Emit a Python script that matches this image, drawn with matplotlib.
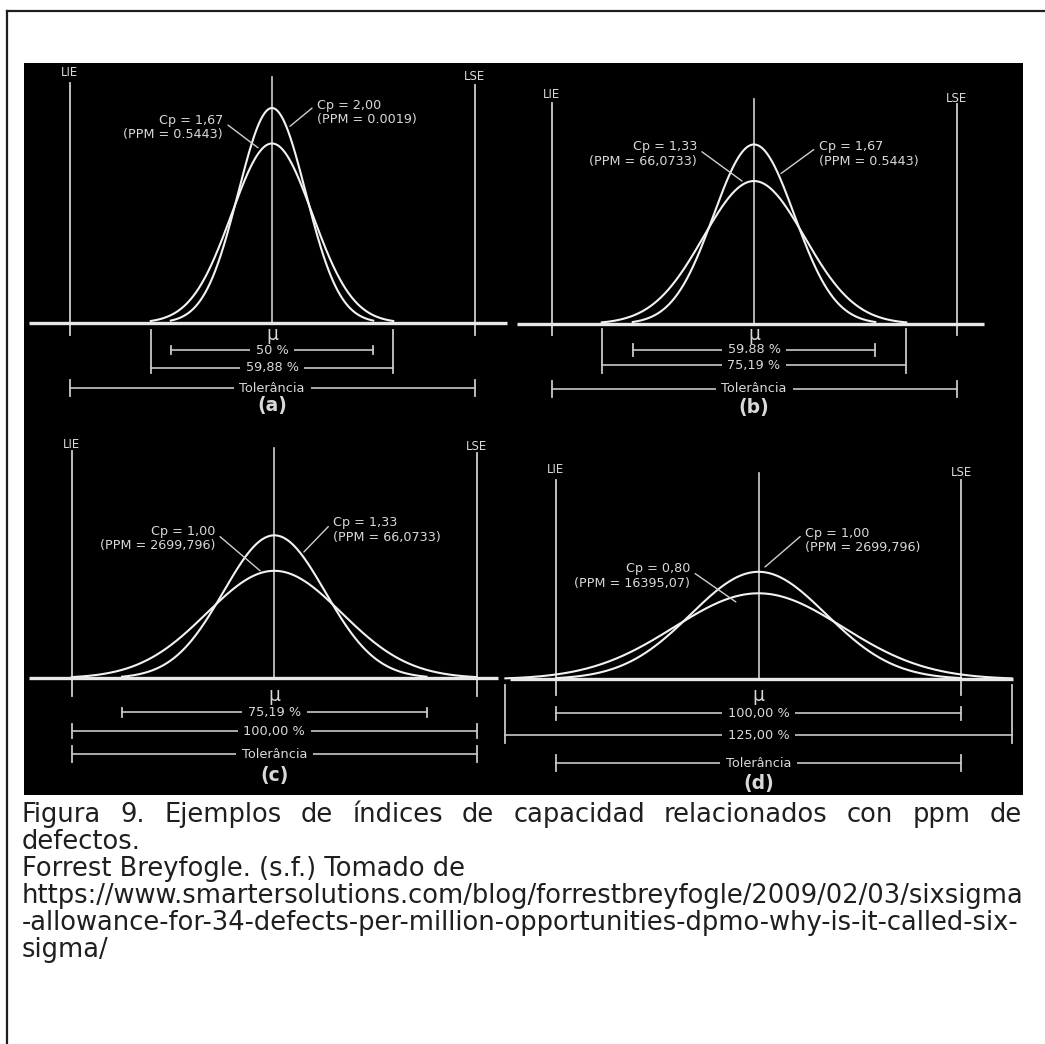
import numpy as np
import matplotlib
matplotlib.use("Agg")
import matplotlib.pyplot as plt
from matplotlib.patches import Rectangle
from matplotlib.lines import Line2D

# ---------------- data ----------------
panel_tags = ["(a)", "(b)", "(c)", "(d)"]
cp_wide = [1.67, 1.33, 1.00, 0.80]          # wider curve, annotated on the left
ppm_wide = ["0.5443", "66,0733", "2699,796", "16395,07"]
cp_narrow = [2.00, 1.67, 1.33, 1.00]        # narrower curve, annotated on the right
ppm_narrow = ["0.0019", "0.5443", "66,0733", "2699,796"]
inner_pct = [50.00, 59.88, 75.19, 100.00]
inner_labels = ["50 %", "59,88 %", "75,19 %", "100,00 %"]
outer_pct = [59.88, 75.19, 100.00, 125.00]
outer_labels = ["59,88 %", "75,19 %", "100,00 %", "125,00 %"]
tolerance_pct = 100.0
spec_labels = ["LIE", "LSE"]
center_label = "\u03bc"
tol_label = "Toler\u00e2ncia"
caption_lines = [
    "Figura 9. Ejemplos de \u00edndices de capacidad relacionados con ppm de",
    "defectos.",
    "Forrest Breyfogle. (s.f.) Tomado de",
    "https://www.smartersolutions.com/blog/forrestbreyfogle/2009/02/03/sixsigma",
    "-allowance-for-34-defects-per-million-opportunities-dpmo-why-is-it-called-six-",
    "sigma/",
]

# ---------------- layout ----------------
W, H, DPI = 1045, 1044, 100
S = 4.05     # px per % of tolerance
K = 107.5    # px per unit of curve height
panels = [
    dict(cx=272.0, by=323.0, box=(24, 63, 512, 425),
         lie_lab=250, lse_lab=246, lie_top=240, lse_top=238, ctr_top=246, vbot=12, mu=11,
         inner=27, inner_tick=4, outer=45, outer_tick=(7, 50), tol=65, tol_tick=8, tag=82,
         base=(-60.0, 58.0),
         lt=(-12.1, 1.82), le=(-3.46, 1.63), rt=(11.1, 1.96), re=(4.44, 1.83)),
    dict(cx=754.0, by=324.0, box=(512, 63, 1023, 425),
         lie_lab=229, lse_lab=226, lie_top=221, lse_top=220, ctr_top=225, vbot=11, mu=10,
         inner=26, inner_tick=6, outer=41, outer_tick=(5, 49), tol=65, tol_tick=8, tag=84,
         base=(-58.4, 56.8),
         lt=(-14.1, 1.58), le=(-2.96, 1.33), rt=(16.0, 1.58), re=(6.67, 1.40)),
    dict(cx=274.3, by=678.3, box=(24, 425, 512, 795),
         lie_lab=234, lse_lab=232, lie_top=227, lse_top=225, ctr_top=230, vbot=18, mu=17,
         inner=34, inner_tick=4.5, outer=53, outer_tick=(46, 60), tol=76, tol_tick=8, tag=97,
         base=(-60.6, 55.2),
         lt=(-14.6, 1.30), le=(-3.5, 1.0), rt=(14.5, 1.38), re=(7.3, 1.175)),
    dict(cx=758.5, by=679.3, box=(512, 425, 1023, 795),
         lie_lab=210, lse_lab=207, lie_top=199, lse_top=199, ctr_top=206, vbot=16, mu=16,
         inner=34, inner_tick=6.5, outer=56, outer_tick=(6, 64), tol=84, tol_tick=8, tag=104,
         base=(-61.4, 62.8),
         lt=(-16.9, 0.96), le=(-5.6, 0.72), rt=(11.5, 1.29), re=(1.6, 1.045)),
]

CURVE = "#f2f2f2"
VLINE = "#cfcfcf"
BASE = "#e8e8e8"
BRK = "#c8c8c8"
TXT = "#d9d9d9"
FONT = "DejaVu Sans"

fig = plt.figure(figsize=(W / DPI, H / DPI), dpi=DPI)
fig.patch.set_facecolor("white")

# outer frame (left and top rules) and black picture area
fig.add_artist(Line2D([7 / W, 7 / W], [0, 1 - 10.7 / H], transform=fig.transFigure,
                      color="#1e1e1e", lw=1.6))
fig.add_artist(Line2D([7 / W, 1], [1 - 10.7 / H, 1 - 10.7 / H], transform=fig.transFigure,
                      color="#1e1e1e", lw=1.6))
fig.add_artist(Rectangle((24 / W, 1 - 795 / H), (1023 - 24) / W, (795 - 63) / H,
                         transform=fig.transFigure, facecolor="black", edgecolor="none",
                         zorder=0))


def fmt_cp(v):
    return "Cp = " + f"{v:.2f}".replace(".", ",")


for i, P in enumerate(panels):
    l, t, r, b = P["box"]
    cx, by = P["cx"], P["by"]
    ax = fig.add_axes([l / W, 1 - b / H, (r - l) / W, (b - t) / H])
    ax.set_facecolor("none")
    ax.set_axis_off()
    ax.set_xlim((l - cx) / S, (r - cx) / S)
    ax.set_ylim((by - b) / K, (by - t) / K)
    py = lambda px: px / K
    half_tol = tolerance_pct / 2

    # spec limit lines and centre line
    ax.plot([-half_tol, -half_tol], [-py(P["vbot"]), py(P["lie_top"])], color=VLINE,
            lw=1.3, clip_on=False)
    ax.plot([half_tol, half_tol], [-py(P["vbot"]), py(P["lse_top"])], color=VLINE,
            lw=1.3, clip_on=False)
    ax.plot([0, 0], [0, py(P["ctr_top"])], color=VLINE, lw=1.2, clip_on=False)
    ax.text(-half_tol, py(P["lie_lab"]), spec_labels[0], color=TXT, fontsize=8.5,
            family=FONT, ha="center", va="center")
    ax.text(half_tol, py(P["lse_lab"]), spec_labels[1], color=TXT, fontsize=8.5,
            family=FONT, ha="center", va="center")

    # normal curves
    for cp in (cp_wide[i], cp_narrow[i]):
        sig = tolerance_pct / (6 * cp)
        xs = np.linspace(-3 * sig, 3 * sig, 500)
        ys = cp * np.exp(-0.5 * (xs / sig) ** 2)
        ax.plot(xs, ys, color=CURVE, lw=1.5, clip_on=False, zorder=3)

    # baseline
    ax.plot(list(P["base"]), [0, 0], color=BASE, lw=2.4, clip_on=False, zorder=4,
            solid_capstyle="butt")

    ax.text(0, -py(P["mu"]), center_label, color=TXT, fontsize=13.5, family=FONT,
            ha="center", va="center", zorder=7)

    def bracket(half, ypx, tick, label):
        y = -py(ypx)
        ax.plot([-half, half], [y, y], color=BRK, lw=1.2, clip_on=False)
        for xe in (-half, half):
            ax.plot([xe, xe], [-py(tick[0]), -py(tick[1])], color=BRK, lw=1.3,
                    clip_on=False)
        ax.text(0, y, label, color=TXT, fontsize=9.3, family=FONT, ha="center",
                va="center", zorder=5,
                bbox=dict(facecolor="black", edgecolor="none", boxstyle="square,pad=0.45"))

    it = P["inner_tick"]
    bracket(inner_pct[i] / 2, P["inner"], (P["inner"] - it, P["inner"] + it),
            inner_labels[i])
    bracket(outer_pct[i] / 2, P["outer"], P["outer_tick"], outer_labels[i])
    tt = P["tol_tick"]
    bracket(half_tol, P["tol"], (P["tol"] - tt, P["tol"] + tt), tol_label)

    ax.text(0, -py(P["tag"]), panel_tags[i], color=TXT, fontsize=13.5, family=FONT,
            fontweight="bold", ha="center", va="center", zorder=7)

    # annotations
    ax.annotate(fmt_cp(cp_wide[i]) + "\n(PPM = " + ppm_wide[i] + ")",
                xy=P["le"], xytext=P["lt"], color=TXT, fontsize=9.2, family=FONT,
                ha="right", va="center", multialignment="right", linespacing=1.15,
                arrowprops=dict(arrowstyle="-", color=VLINE, lw=1.0, shrinkA=2, shrinkB=0,
                                relpos=(1.0, 0.72)))
    ax.annotate(fmt_cp(cp_narrow[i]) + "\n(PPM = " + ppm_narrow[i] + ")",
                xy=P["re"], xytext=P["rt"], color=TXT, fontsize=9.2, family=FONT,
                ha="left", va="center", multialignment="left", linespacing=1.15,
                arrowprops=dict(arrowstyle="-", color=VLINE, lw=1.0, shrinkA=2, shrinkB=0,
                                relpos=(0.0, 0.8)))

# ---------------- caption ----------------
renderer = fig.canvas.get_renderer()
left_px, right_px = 22, 1022
probe = fig.text(0, 0, caption_lines[3], fontsize=10, family=FONT)
w10 = probe.get_window_extent(renderer).width
probe.remove()
cap_fs = 10 * 998 / w10
baselines = [822, 849, 876, 903, 930, 957]
CAPC = "#1f1f1f"

# first line justified
words = caption_lines[0].split(" ")
widths = []
for wd in words:
    tx = fig.text(0, 0, wd, fontsize=cap_fs, family=FONT)
    widths.append(tx.get_window_extent(renderer).width)
    tx.remove()
gap = (right_px - left_px - sum(widths)) / (len(words) - 1)
xpos = left_px
for wd, wdt in zip(words, widths):
    fig.text(xpos / W, 1 - baselines[0] / H, wd, fontsize=cap_fs, family=FONT,
             color=CAPC, ha="left", va="baseline")
    xpos += wdt + gap

for line, bl in zip(caption_lines[1:], baselines[1:]):
    fig.text(left_px / W, 1 - bl / H, line, fontsize=cap_fs, family=FONT, color=CAPC,
             ha="left", va="baseline")

fig.savefig("out.png", dpi=DPI, facecolor="white")
